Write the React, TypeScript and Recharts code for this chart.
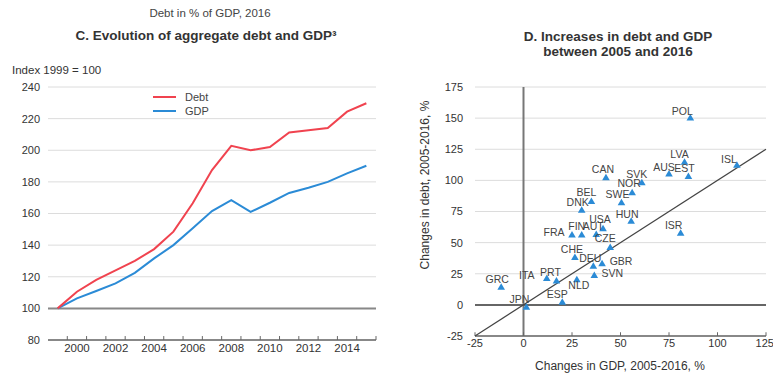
import React from "react";
import {
  LineChart,
  Line,
  XAxis,
  YAxis,
  CartesianGrid,
  ReferenceLine,
  ScatterChart,
  Scatter,
} from "recharts";

// Panel C: index 1999 = 100
const years = [1999, 2000, 2001, 2002, 2003, 2004, 2005, 2006, 2007, 2008, 2009, 2010, 2011, 2012, 2013, 2014, 2015];
const debtIndex = [100, 110.5, 118, 124, 130, 137.5, 148.5, 166.5, 187.5, 202.8, 200, 202, 211.3, 212.6, 214, 224.4, 229.7];
const gdpIndex = [100, 106.3, 111, 115.8, 122.5, 131.6, 140, 150.6, 161.5, 168.5, 161, 166.8, 173, 176.3, 180, 185.4, 190.2];
const yearLabels = [2000, 2002, 2004, 2006, 2008, 2010, 2012, 2014];
const indexTicks = [80, 100, 120, 140, 160, 180, 200, 220, 240];
const seriesNames = ["Debt", "GDP"];

// Panel D: changes 2005-2016, %
const countries = ["POL", "LVA", "ISL", "AUS", "EST", "CAN", "SVK", "NOR", "SWE", "BEL", "DNK", "HUN", "ISR", "USA", "AUT", "FIN", "FRA", "CZE", "CHE", "DEU", "GBR", "SVN", "NLD", "ITA", "PRT", "GRC", "ESP", "JPN"];
const gdpChange = [86, 83, 110, 75, 85, 42.5, 61, 56, 50.5, 35, 30, 55.5, 81, 41, 37.5, 30, 25, 44.7, 26.5, 36, 40.5, 36.5, 27.5, 12, 17, -11.5, 20, 1.5];
const debtChange = [150.5, 115, 112.5, 105.5, 103.5, 102.5, 98.5, 90.5, 82.5, 83.5, 76.5, 67.5, 58, 61.5, 57, 56.5, 56.5, 46.5, 38.5, 31.5, 33.5, 24, 20.5, 21.5, 19.5, 14.5, 2.5, -1.5];
const gdpTicks = [-25, 0, 25, 50, 75, 100, 125];
const debtTicks = [-25, 0, 25, 50, 75, 100, 125, 150, 175];

// label placement relative to each marker (text centre)
const labelOffset: Record<string, [number, number]> = {
  POL: [-8, -7], LVA: [-5, -8], ISL: [-8, -6], AUS: [-5, -7], EST: [-4, -8],
  CAN: [-3, -8], SVK: [-5, -8], NOR: [-3, -9], SWE: [-4, -8], BEL: [-5, -9],
  DNK: [-4, -8], HUN: [-4, -7], ISR: [-7, -8], USA: [-3, -9], AUT: [-3, -8],
  FIN: [-5, -9], FRA: [-18, -3], CZE: [-5, -9], CHE: [-3, -8], DEU: [-3, -8],
  GBR: [19, -2], SVN: [18, -2], NLD: [2, 6], ITA: [-20, -3], PRT: [-6, -9],
  GRC: [-4, -8], ESP: [-5, -8], JPN: [-7, -8],
};

const RED = "#f0434f";
const BLUE = "#2b8bd6";
const AXIS = "#666";
const FONT = "'Liberation Sans', Arial, sans-serif";

const lineData = years.map((year, i) => ({ year, debt: debtIndex[i], gdp: gdpIndex[i] }));
// tick marks sit on the boundaries between years, labels in the middle of each year
const bandEdges = years.map((y) => y + 0.5);
const yearDomain = [years[0] - 0.5, years[years.length - 1] + 0.5];
const indexMin = indexTicks[0];
const debtMin = debtTicks[0];
const scatterData = countries.map((name, i) => ({ name, gdp: gdpChange[i], debt: debtChange[i] }));
const diagonal = [
  { x: gdpTicks[0], y: gdpTicks[0] },
  { x: gdpTicks[gdpTicks.length - 1], y: gdpTicks[gdpTicks.length - 1] },
];

function YearTick(props: any) {
  const { x, y, payload, width } = props;
  const label = payload.value + 0.5;
  if (!yearLabels.includes(label)) return null;
  const half = (width || 328) / years.length / 2;
  return (
    <text x={x + half} y={y} dy="0.71em" textAnchor="middle" fontSize={11.5} fill="#333" fontFamily={FONT}>
      {label}
    </text>
  );
}

function Marker(props: any) {
  const { cx, cy, payload } = props;
  const [dx, dy] = labelOffset[payload.name] || [0, -8];
  return (
    <g>
      <polygon points={`${cx},${cy - 3.5} ${cx - 3.8},${cy + 3} ${cx + 3.8},${cy + 3}`} fill={BLUE} />
      <text
        x={cx + dx}
        y={cy + dy}
        textAnchor="middle"
        dominantBaseline="central"
        fontSize={10.5}
        fill="#444"
        fontFamily={FONT}
      >
        {payload.name}
      </text>
    </g>
  );
}

const textStyle: React.CSSProperties = {
  position: "absolute",
  fontFamily: FONT,
  color: "#333",
  whiteSpace: "nowrap",
};

export default function App() {
  return (
    <div style={{ position: "absolute", left: 0, top: 0, width: 773, height: 376, background: "#fff", overflow: "hidden" }}>
      <div style={{ ...textStyle, left: 0, width: 420, top: 7, textAlign: "center", fontSize: 11.5, color: "#444" }}>
        Debt in % of GDP, 2016
      </div>
      <div style={{ ...textStyle, left: 0, width: 412, top: 28, textAlign: "center", fontSize: 13.5, fontWeight: "bold" }}>
        C. Evolution of aggregate debt and GDP³
      </div>
      <div style={{ ...textStyle, left: 12, top: 64, fontSize: 11.5 }}>Index 1999 = 100</div>

      <div style={{ position: "absolute", left: 0, top: 0 }}>
        <LineChart width={390} height={376} data={lineData} margin={{ top: 87, right: 14, bottom: 16, left: 8 }}>
          <CartesianGrid vertical={false} stroke="#dcdcdc" />
          <XAxis
            type="number"
            dataKey="year"
            domain={yearDomain}
            ticks={bandEdges}
            tick={<YearTick />}
            tickSize={0}
            tickMargin={4}
            height={20}
            interval={0}
            axisLine={false}
            tickLine={false}
          />
          <YAxis
            domain={[indexMin, indexTicks[indexTicks.length - 1]]}
            ticks={indexTicks}
            width={40}
            axisLine={false}
            tickLine={false}
            tick={{ fontSize: 11, fill: "#333", fontFamily: FONT }}
          />
          <ReferenceLine y={100} stroke="#888" strokeWidth={2} />
          <ReferenceLine y={indexMin} stroke={AXIS} strokeWidth={1.5} ifOverflow="visible" />
          {bandEdges.map((e) => (
            <ReferenceLine
              key={e}
              segment={[{ x: e, y: indexMin }, { x: e, y: indexMin + 2.5 }]}
              stroke={AXIS}
              strokeWidth={1}
              ifOverflow="visible"
            />
          ))}
          <Line type="linear" dataKey="gdp" name={seriesNames[1]} stroke={BLUE} strokeWidth={2} dot={false} isAnimationActive={false} />
          <Line type="linear" dataKey="debt" name={seriesNames[0]} stroke={RED} strokeWidth={2} dot={false} isAnimationActive={false} />
        </LineChart>
      </div>

      <div style={{ position: "absolute", left: 153, top: 90, fontFamily: FONT, fontSize: 11, color: "#444" }}>
        {seriesNames.map((name, i) => (
          <div key={name} style={{ display: "flex", alignItems: "center", height: 14 }}>
            <span style={{ display: "inline-block", width: 23, height: 2.5, background: i === 0 ? RED : BLUE, marginRight: 9 }} />
            {name}
          </div>
        ))}
      </div>

      <div style={{ ...textStyle, left: 390, width: 456, top: 29, textAlign: "center", fontSize: 13.5, fontWeight: "bold", lineHeight: "15px" }}>
        D. Increases in debt and GDP
        <br />
        between 2005 and 2016
      </div>
      <div
        style={{
          ...textStyle,
          left: 425 - 100,
          top: 185 - 7,
          width: 200,
          textAlign: "center",
          fontSize: 12,
          lineHeight: "14px",
          transform: "rotate(-90deg)",
          transformOrigin: "100px 7px",
        }}
      >
        Changes in debt, 2005-2016, %
      </div>
      <div style={{ ...textStyle, left: 520, width: 200, top: 359, textAlign: "center", fontSize: 12 }}>
        Changes in GDP, 2005-2016, %
      </div>

      <div style={{ position: "absolute", left: 390, top: 0 }}>
        <ScatterChart width={383} height={376} margin={{ top: 87, right: 7, bottom: 20, left: 45 }}>
          <CartesianGrid vertical={false} stroke="#dcdcdc" />
          <XAxis
            type="number"
            dataKey="gdp"
            domain={[gdpTicks[0], gdpTicks[gdpTicks.length - 1]]}
            ticks={gdpTicks}
            height={20}
            tickSize={0}
            tickMargin={3}
            axisLine={false}
            tickLine={false}
            tick={{ fontSize: 11, fill: "#333", fontFamily: FONT }}
          />
          <YAxis
            type="number"
            dataKey="debt"
            domain={[debtMin, debtTicks[debtTicks.length - 1]]}
            ticks={debtTicks}
            width={40}
            axisLine={false}
            tickLine={false}
            tickMargin={6}
            tick={{ fontSize: 11, fill: "#333", fontFamily: FONT }}
          />
          <ReferenceLine x={0} stroke="#777" strokeWidth={2} />
          <ReferenceLine y={0} stroke={AXIS} strokeWidth={2} />
          <ReferenceLine y={debtMin} stroke={AXIS} strokeWidth={1.5} ifOverflow="visible" />
          {gdpTicks.map((t) => (
            <ReferenceLine
              key={t}
              segment={[{ x: t, y: debtMin }, { x: t, y: debtMin + 3 }]}
              stroke={AXIS}
              strokeWidth={1}
              ifOverflow="visible"
            />
          ))}
          <ReferenceLine segment={diagonal} stroke="#444" strokeWidth={1.2} />
          <Scatter data={scatterData} shape={<Marker />} isAnimationActive={false} />
        </ScatterChart>
      </div>
    </div>
  );
}
